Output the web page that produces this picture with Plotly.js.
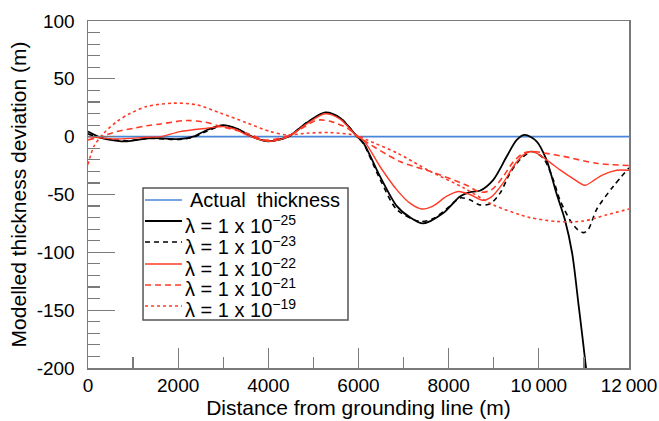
<!DOCTYPE html>
<html>
<head>
<meta charset="utf-8">
<script src="https://cdn.plot.ly/plotly-3.0.1.min.js"></script>
<style>html,body{margin:0;padding:0;background:#fff;}#chart{width:659px;height:421px;}</style>
</head>
<body>
<div id="chart"></div>
<script>
// Actual thickness (reference line)
const actualX = [0, 12000];
const actualY = [0, 0];

// lambda = 1e-25
const lam25X = [0, 280, 650, 870, 1390, 2040, 2330, 2650, 3000, 3300, 3640, 4000, 4440, 4850, 5260, 5600, 5970, 6110, 6480, 6850, 7150, 7430, 7880, 8250, 8470, 8690, 8990, 9290, 9510, 9690, 9950, 10170, 10390, 10580, 10740, 10880, 11050, 11080];
const lam25Y = [4.4, -0.8, -3.6, -4, -1.3, -2, 0, 6, 10, 7, 0, -4, 0, 12, 21, 16, 0, -5.5, -34.5, -60, -70, -75, -66, -51.7, -48, -46.8, -37.3, -17, -2.8, 1.5, -4, -20, -49, -72, -101, -145, -201, -215];

// lambda = 1e-23
const lam23X = [0, 280, 650, 900, 1400, 2000, 2330, 2650, 3000, 3300, 3640, 4000, 4440, 4850, 5260, 5600, 5970, 6110, 6480, 6850, 7360, 7650, 8030, 8250, 8470, 8690, 8920, 9140, 9360, 9580, 9840, 10100, 10320, 10470, 10690, 10850, 10990, 11100, 11280, 11650, 12000];
const lam23Y = [2.5, -1, -3, -3.5, -1.5, -2.5, -0.5, 5, 9.5, 7, 0, -4, 0, 12, 20.5, 16, 0, -6, -37, -63, -73.3, -71, -60, -53, -54.6, -59, -58, -48.8, -31.5, -20, -12.8, -18.6, -37.3, -55, -72, -80, -83, -80, -63, -43, -27];

// lambda = 1e-22
const lam22X = [0, 650, 1300, 1610, 2040, 2640, 3000, 3300, 3520, 4000, 4440, 4850, 5260, 5600, 5970, 6110, 6480, 6850, 7140, 7400, 7650, 7950, 8210, 8470, 8750, 8950, 9210, 9430, 9650, 9870, 10170, 10470, 10750, 11020, 11250, 11420, 11730, 12000];
const lam22Y = [0, -2, -0.5, 0, 4.4, 7.3, 8.7, 6, 1.5, -4, 0, 11, 19.8, 15, 0, -3, -26, -46, -57.5, -62.5, -60, -51.7, -47.4, -50, -55, -52, -40, -26, -16, -13, -20, -28.7, -36, -42, -37, -33, -29, -29];

// lambda = 1e-21
const lam21X = [0, 280, 640, 1020, 1300, 1610, 2190, 2600, 2930, 3520, 3970, 4480, 5000, 5150, 5400, 5740, 6110, 6920, 7590, 8400, 8700, 8950, 9200, 9430, 9650, 9850, 10100, 10540, 11280, 12000];
const lam21Y = [-2.8, 0, 4.4, 7.3, 9.5, 11, 14, 12.5, 9, 3, -3, 1.5, 13, 14.5, 13, 7.6, -3, -21.5, -30, -42, -48, -46, -35, -22, -14.5, -12.8, -14, -17, -23, -25];

// lambda = 1e-19
const lam19X = [0, 130, 350, 640, 930, 1300, 1890, 2410, 2930, 3520, 4040, 4410, 4860, 5370, 5970, 6200, 6850, 7590, 8320, 8990, 9580, 9800, 10390, 10980, 11510, 12000];
const lam19Y = [-24, -8.5, 3, 13, 20, 26, 29, 27.5, 20.5, 12, 4.4, 1.5, 3, 3.5, 1, -3, -14, -30, -44, -59, -67.5, -70, -73.3, -73, -67.5, -62.5];

const names = ['Actual  thickness',
  'λ = 1 x 10<sup>−25</sup>',
  'λ = 1 x 10<sup>−23</sup>',
  'λ = 1 x 10<sup>−22</sup>',
  'λ = 1 x 10<sup>−21</sup>',
  'λ = 1 x 10<sup>−19</sup>'];

const xTickVals = [0, 2000, 4000, 6000, 8000, 10000, 12000];
const xTickText = ['0', '2000', '4000', '6000', '8000', '10\u2009000', '12\u2009000'];
const yTickVals = [100, 50, 0, -50, -100, -150, -200];
const yTickText = ['100', '50', '0', '-50', '-100', '-150', '-200'];

const RED = '#ff3a26';
const styles = [
  {color: '#4a86d8', width: 1.6},
  {color: '#000', width: 1.8},
  {color: '#000', width: 1.6, dash: '5px,4px'},
  {color: RED, width: 1.4},
  {color: RED, width: 1.6, dash: '6px,4px'},
  {color: RED, width: 1.6, dash: 'dot'}
];
const series = [[actualX, actualY], [lam25X, lam25Y], [lam23X, lam23Y], [lam22X, lam22Y], [lam21X, lam21Y], [lam19X, lam19Y]];

const traces = series.map((s, i) => ({
  x: s[0], y: s[1], name: names[i], mode: 'lines', showlegend: false,
  line: Object.assign({}, styles[i], i === 0 ? {} : {shape: 'spline', smoothing: 0.8})
}));

// custom legend (paper coordinates of the plot area)
const legRowY = [0.4841, 0.4236, 0.3631, 0.2997, 0.2392, 0.1787];
const shapes = [{
  type: 'rect', xref: 'paper', yref: 'paper', x0: 0.1017, x1: 0.4806, y0: 0.1383, y1: 0.5187,
  line: {color: '#555', width: 1.5}, fillcolor: '#fff', layer: 'above'
}];
const annotations = [];
names.forEach((n, i) => {
  shapes.push({type: 'line', xref: 'paper', yref: 'paper', x0: 0.1054, x1: 0.1738, y0: legRowY[i], y1: legRowY[i],
    line: Object.assign({}, styles[i]), layer: 'above'});
  annotations.push({xref: 'paper', yref: 'paper', x: i === 0 ? 0.1848 : 0.1756, y: legRowY[i],
    xanchor: 'left', yanchor: 'middle', text: n, showarrow: false,
    font: {size: 20, color: '#000'}, yshift: i === 0 ? 0 : -3});
});

const axisCol = '#7a7a7a';
const layout = {
  width: 659, height: 421,
  margin: {l: 88, r: 30, t: 21, b: 53},
  paper_bgcolor: '#fff', plot_bgcolor: '#fff',
  font: {family: 'Liberation Sans, Arial, sans-serif', size: 19, color: '#000'},
  showlegend: false,
  shapes: shapes,
  annotations: annotations,
  xaxis: {
    range: [0, 12000], autorange: false,
    showline: true, linecolor: axisCol, linewidth: 1.5, mirror: true,
    showgrid: false, zeroline: false,
    ticks: 'inside', ticklen: 20, tickwidth: 1.2, tickcolor: axisCol,
    tickmode: 'array', tickvals: xTickVals, ticktext: xTickText,
    tickfont: {size: 19},
    minor: {ticks: 'inside', tick0: 0, dtick: 1000, ticklen: 11, tickcolor: axisCol, tickwidth: 1.2, showgrid: false},
    title: {text: 'Distance from grounding line (m)', font: {size: 21}, standoff: 2},
    automargin: false
  },
  yaxis: {
    range: [-200, 100], autorange: false,
    showline: true, linecolor: axisCol, linewidth: 1.5, mirror: true,
    showgrid: false, zeroline: false,
    ticks: 'inside', ticklen: 27, tickwidth: 1.2, tickcolor: axisCol,
    tickmode: 'array', tickvals: yTickVals, ticktext: yTickText,
    tickfont: {size: 19}, ticklabelstandoff: 8,
    minor: {ticks: 'inside', tick0: 0, dtick: 10, ticklen: 12, tickcolor: axisCol, tickwidth: 1.2, showgrid: false},
    title: {text: 'Modelled thickness deviation (m)', font: {size: 21}, standoff: 4},
    automargin: false
  }
};

Plotly.newPlot('chart', traces, layout, {displayModeBar: false, staticPlot: true});
</script>
</body>
</html>
